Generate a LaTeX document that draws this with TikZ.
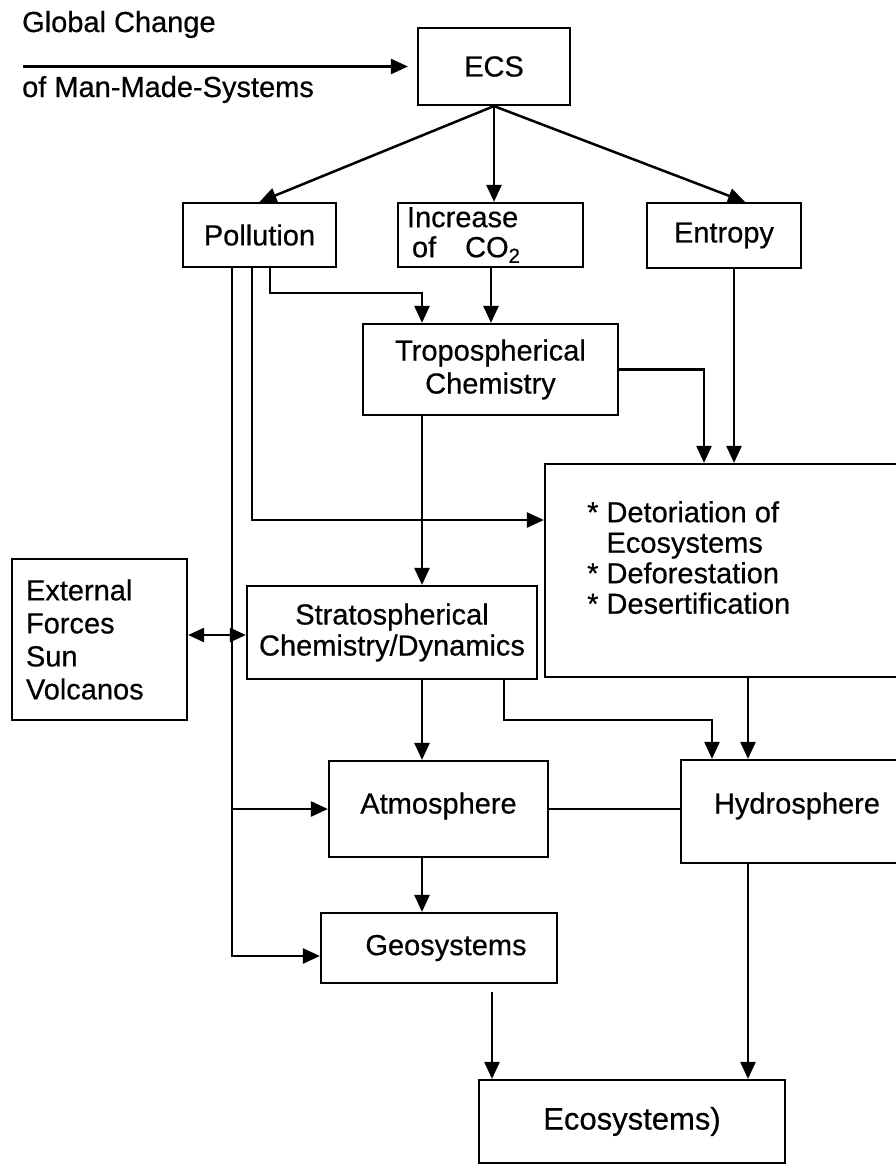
\documentclass[tikz,border=0pt]{standalone}
\usepackage{fontspec}
\setmainfont{Liberation Sans}[FakeBold=0.5]
\usetikzlibrary{arrows.meta}
\begin{document}
\begin{tikzpicture}[x=1pt,y=-1pt,
  box/.style={draw, line width=2.2pt, inner sep=0pt, font=\fontsize{29}{33}\selectfont},
  conn/.style={line width=2.5pt},
  arr/.style={conn, -{Triangle[length=17pt,width=15pt]}},
  arrtwo/.style={conn, {Triangle[length=16pt,width=14pt]}-{Triangle[length=16pt,width=14pt]}},
  lbl/.style={inner sep=0pt, font=\fontsize{29}{33}\selectfont}]
\useasboundingbox (0,0) rectangle (896,1165);
\clip (0,0) rectangle (896,1165);

% boxes
\node[box, minimum width=152pt, minimum height=77pt] (ecs) at (494,66.5) {ECS};
\node[box, minimum width=153pt, minimum height=64pt] (pol) at (259.5,235) {Pollution};
\node[box, minimum width=185pt, minimum height=64pt, text width=167pt, inner xsep=9pt, align=left, font=\fontsize{29}{30}\selectfont] (inc) at (490.5,235) {Increase\\\hspace*{5pt}of\ \ \ CO\textsubscript{2}};
\node[box, minimum width=154pt, minimum height=65pt] (ent) at (724,235.5) {Entropy};
\node[box, minimum width=255pt, minimum height=91pt, align=center] (tro) at (490.5,369.5) {Tropospherical\\Chemistry};
\node[box, minimum width=365pt, minimum height=213pt] (det) at (727.5,570.5) {};
\node[lbl, anchor=north west, align=left, font=\fontsize{29}{30.5}\selectfont] (dtx) at (587,501) {* Detoriation of\\\hphantom{*\ }Ecosystems\\* Deforestation\\* Desertification};
\node[box, minimum width=175pt, minimum height=161pt, text width=147pt, inner xsep=14pt, align=left, font=\fontsize{29}{33}\selectfont] (ext) at (99.5,639.5) {External\\Forces\\Sun\\Volcanos};
\node[box, minimum width=290pt, minimum height=93pt, align=center, font=\fontsize{29}{31}\selectfont] (str) at (392,632.5) {Stratospherical\\Chemistry/Dynamics};
\node[box, minimum width=219pt, minimum height=96pt, text height=21pt, text depth=12pt] (atm) at (438.5,809) {Atmosphere};
\node[box, minimum width=232pt, minimum height=103pt, text height=21pt, text depth=17pt] (hyd) at (797,811.5) {Hydrosphere};
\node[box, minimum width=236pt, minimum height=70pt] (geo) at (439,948) {\hspace*{14pt}Geosystems};
\node[box, minimum width=306pt, minimum height=83pt, font=\fontsize{31}{35}\selectfont] (eco) at (632,1121.5) {Ecosystems)};

% free labels
\node[lbl, anchor=base west] (gc1) at (22,32) {Global Change};
\node[lbl, anchor=base west] (gc2) at (22,97) {of Man-Made-Systems};
\coordinate (gcs) at (23,66.5);

% x / y levels
\coordinate (xa) at (270,0);
\coordinate (xb) at (252,0);
\coordinate (xc) at (232,0);
\coordinate (xd) at (491,0);
\coordinate (xe) at (704,0);
\coordinate (xf) at (734,0);
\coordinate (xg) at (422,0);
\coordinate (xi) at (504,0);
\coordinate (xj) at (712,0);
\coordinate (xl) at (748,0);
\coordinate (xm) at (492,0);
\coordinate (xn) at (745,0);
\coordinate (ya) at (0,293);
\coordinate (yb) at (0,520);
\coordinate (yc) at (0,635);
\coordinate (yk) at (0,720);
\coordinate (yg) at (0,956);
\coordinate (ym) at (0,992);

% connectors
\draw[arr, shorten >=9pt] (gcs) -- (ecs.west);
\draw[arr] (ecs.south) -- (pol.north);
\draw[arr] (ecs.south) -- (ecs.south |- inc.north);
\draw[arr] (ecs.south) -- (ent.north -| xn);
\draw[arr] (pol.south -| xa) |- (ya -| xg) -- (tro.north -| xg);
\draw[arr] (pol.south -| xb) |- (yb -| det.west);
\draw[arr] (pol.south -| xc) |- (yg -| geo.west);
\draw[arr] (atm.west -| xc) -- (atm.west);
\draw[arrtwo] (yc -| ext.east) -- (yc -| str.west);
\draw[arr] (inc.south -| xd) -- (tro.north -| xd);
\draw[arr] (tro.east) -| (det.north -| xe);
\draw[arr] (ent.south -| xf) -- (det.north -| xf);
\draw[arr] (tro.south -| xg) -- (str.north -| xg);
\draw[arr] (str.south -| xg) -- (atm.north -| xg);
\draw[arr] (str.south -| xi) |- (yk -| xj) -- (hyd.north -| xj);
\draw[arr] (det.south -| xl) -- (hyd.north -| xl);
\draw[conn] (atm.east) -- (atm.east -| hyd.west);
\draw[arr] (atm.south -| xg) -- (geo.north -| xg);
\draw[arr] (ym -| xm) -- (eco.north -| xm);
\draw[arr] (hyd.south -| xl) -- (eco.north -| xl);
\end{tikzpicture}
\end{document}
